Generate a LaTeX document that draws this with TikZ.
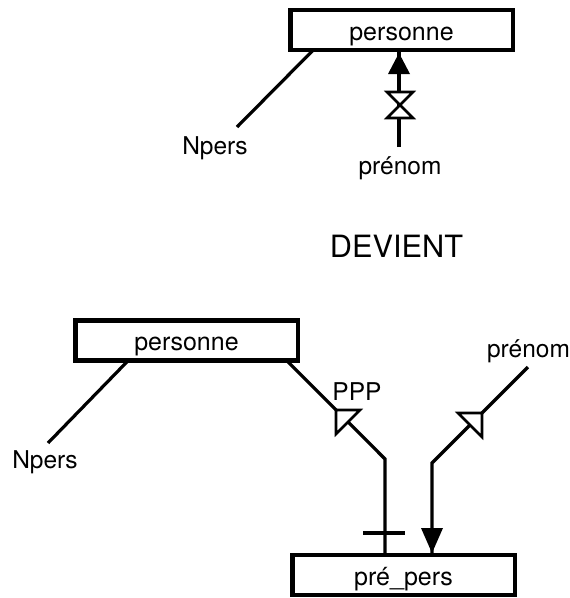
\documentclass[tikz,border=0pt]{standalone}
\usepackage{fontspec}
\setmainfont{TeX Gyre Heros}
\usetikzlibrary{calc}
\begin{document}
\begin{tikzpicture}[x=1pt,y=-1pt,
  entity/.style={draw, line width=4.5pt, rectangle, inner sep=0pt, outer sep=0pt,
    minimum width=222.5pt, minimum height=40pt,
    font=\fontsize{25}{30}\selectfont, text height=20pt, text depth=0pt},
  lbl/.style={font=\fontsize{24.5}{29}\selectfont, anchor=base, inner sep=0pt},
  link/.style={line width=3.2pt},
  openhead/.style={line width=2.6pt, fill=white, line join=miter},
  solidhead/.style={fill=black},
]
\useasboundingbox[fill=white] (0,0) rectangle (570,598);

% ---- initial schema ----
\node[entity] (pers1) at (401.5,30) {personne};
\node[lbl] (npers1) at (215,154) {Npers};
\node[lbl] (pren1) at (400,174) {prénom};
\coordinate (n1end) at (237,127);
\coordinate (v1) at (399,147);
\coordinate (hg) at (400,105);

\draw[link] ($(pers1.south west)+(23,0)$) -- (n1end);
\draw[link] (v1) -- (v1 |- pers1.south);
\fill[solidhead] (v1 |- pers1.south) ++(0,3) -- ++(-11,21) -- ++(22,0) -- cycle;
\draw[openhead] (hg) ++(-13,-13) -- ++(26,0) -- ++(-26,26) -- ++(26,0) -- cycle;

% ---- transformation ----
\node[font=\fontsize{30.7}{36}\selectfont, inner sep=0pt] (devient) at (396.5,246) {DEVIENT};

% ---- resulting schema ----
\node[entity] (pers2) at (186.5,340.5) {personne};
\node[lbl] (npers2) at (45,468) {Npers};
\node[lbl] (ppp) at (357,400) {PPP};
\node[lbl] (pren2) at (528.5,357) {prénom};
\node[entity] (prepers) at (403.5,575) {pré\_pers};

\coordinate (n2end) at (48,443);
\coordinate (b1) at (385,459);
\coordinate (r0) at (528,367);
\coordinate (r1) at (432,463);

\draw[link] ($(pers2.south west)+(53,0)$) -- (n2end);

% PPP link with its open head and the single-cardinality tick
\draw[link] ($(pers2.south east)+(-11,0)$) -- (b1) -- (b1 |- prepers.north);
\draw[openhead] (336,410) -- (360,410) -- (336,434) -- cycle;
\draw[link] ($(b1 |- prepers.north)+(-22,-22)$) -- ++(42,0);

% prénom link with its open head and the solid arrow into pré_pers
\draw[link] (r0) -- (r1) -- (r1 |- prepers.north);
\draw[openhead] (482,413) -- (458,413) -- (482,437) -- cycle;
\fill[solidhead] (r1 |- prepers.north) ++(0,-2) -- ++(-11,-25) -- ++(22,0) -- cycle;
\end{tikzpicture}
\end{document}
